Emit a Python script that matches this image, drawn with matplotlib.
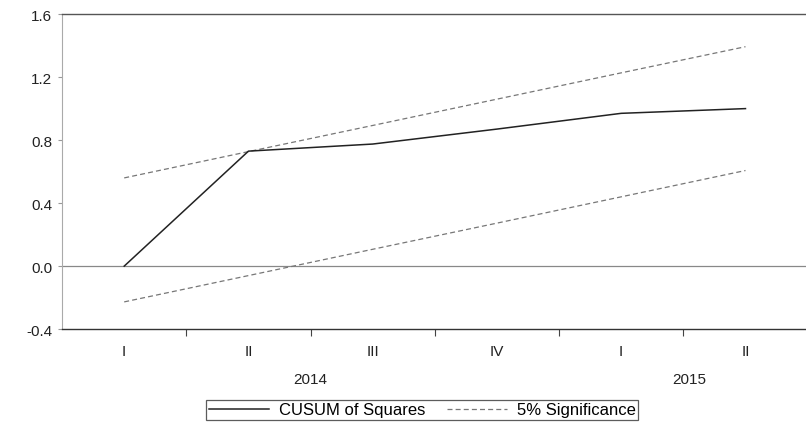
import numpy as np
import matplotlib.pyplot as plt
import matplotlib.transforms as mtransforms

plt.rcParams['font.family'] = ['Liberation Sans', 'DejaVu Sans']

quarters = ['I', 'II', 'III', 'IV', 'I', 'II']
years = ['2014', '2015']
cusum_sq = [0.0, 0.73, 0.775, 0.87, 0.97, 1.0]
upper_5 = [0.56, 0.727, 0.893, 1.06, 1.227, 1.393]
lower_5 = [-0.227, -0.06, 0.107, 0.273, 0.44, 0.607]

x = np.arange(len(quarters))

fig = plt.figure(figsize=(8.06, 4.31), dpi=100)
ax = fig.add_axes([0.077, 0.234, 0.925, 0.731])

ax.axhline(0, color='#888888', lw=0.9, zorder=1)
ax.plot(x, cusum_sq, color='#222222', lw=1.1, label='CUSUM of Squares', zorder=3)
ax.plot(x, upper_5, color='#777777', lw=0.9, ls=(0, (4, 2.5)), label='5% Significance', zorder=2)
ax.plot(x, lower_5, color='#777777', lw=0.9, ls=(0, (4, 2.5)), zorder=2)

ax.set_xlim(-0.5, 5.5)
ax.set_ylim(-0.4, 1.6)
ax.set_yticks([-0.4, 0.0, 0.4, 0.8, 1.2, 1.6])
ax.set_yticklabels(['-0.4', '0.0', '0.4', '0.8', '1.2', '1.6'])

# quarter names sit in the middle, tick marks on the boundaries
ax.set_xticks(x)
ax.set_xticklabels(quarters)
ax.set_xticks(np.arange(0.5, 5.5, 1.0), minor=True)
ax.tick_params(axis='x', which='major', length=0, pad=11, labelsize=11, colors='#222222')
ax.tick_params(axis='x', which='minor', length=5, width=0.8, color='#444444')
ax.tick_params(axis='y', length=3, width=0.8, color='#999999', pad=4, labelsize=11, labelcolor='#222222')

ax.spines['right'].set_visible(False)
ax.spines['left'].set_color('#aaaaaa')
ax.spines['left'].set_linewidth(0.8)
ax.spines['top'].set_color('#555555')
ax.spines['top'].set_linewidth(1.0)
ax.spines['bottom'].set_color('#333333')
ax.spines['bottom'].set_linewidth(1.0)

trans = mtransforms.blended_transform_factory(ax.transData, fig.transFigure)
ax.text(1.5, 1 - 380 / 431, years[0], transform=trans, ha='center', va='center', fontsize=11, color='#222222')
ax.text(4.55, 1 - 380 / 431, years[1], transform=trans, ha='center', va='center', fontsize=11, color='#222222')

leg = fig.legend(loc='center', bbox_to_anchor=(0.524, 1 - 411 / 431), ncol=2, fontsize=12,
                 frameon=True, fancybox=False, edgecolor='#333333', handlelength=3.6,
                 columnspacing=1.3, handletextpad=0.6, borderpad=0.15, borderaxespad=0.0)
leg.get_frame().set_linewidth(0.9)

fig.savefig('out.png', dpi=100)
